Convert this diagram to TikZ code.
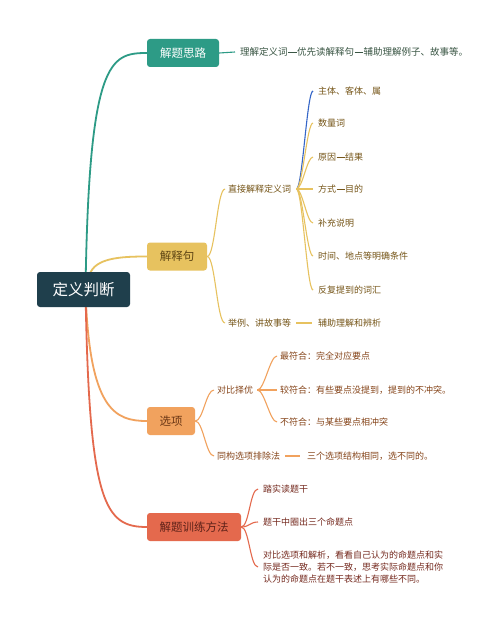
\documentclass[tikz,border=0pt]{standalone}
\usepackage{fontspec}
\setmainfont{Noto Sans CJK SC}
\usetikzlibrary{backgrounds}
\definecolor{rootc}{HTML}{1F3F4C}
\definecolor{tealc}{HTML}{2D9B86}
\definecolor{yelc}{HTML}{E7C25F}
\definecolor{orac}{HTML}{F1A25E}
\definecolor{redc}{HTML}{E4694D}
\definecolor{bluec}{HTML}{3566C8}
\definecolor{tealtext}{HTML}{3A5644}
\definecolor{yeltext}{HTML}{765619}
\definecolor{oratext}{HTML}{86451A}
\definecolor{redtext}{HTML}{752A1F}
\newcommand{\cjkdash}{\makebox[1em]{\rule[0.35em]{0.9em}{0.045em}}}
\begin{document}
\begin{tikzpicture}[x=1pt,y=-1pt,
  box/.style={rounded corners=3pt, inner sep=0pt, minimum height=28pt, font=\fontsize{11.5}{14}\selectfont},
  leaf/.style={anchor=west, inner sep=0pt, font=\fontsize{9}{12}\selectfont},
  mainline/.style={line width=1.8pt},
  subline/.style={line width=1.1pt}]
\useasboundingbox (0,0) rectangle (500,626);
% main boxes
\node[box, fill=rootc, text=white, minimum width=93pt, minimum height=35pt, font=\fontsize{15.5}{18}\selectfont] (root) at (83.5,289.5) {定义判断};
\node[box, fill=tealc, text=white, minimum width=72pt] (n1) at (183,53) {解题思路};
\node[box, fill=yelc, text=yeltext!80!black, minimum width=60pt] (n2) at (177,256.5) {解释句};
\node[box, fill=orac, text=oratext!80!black, minimum width=48pt] (n3) at (171,421) {选项};
\node[box, fill=redc, text=redtext!80!black, minimum width=94pt] (n4) at (194,527) {解题训练方法};
% branch 1
\node[leaf, text=tealtext, font=\fontsize{9.5}{12}\selectfont] (t1) at (240,52) {理解定义词\cjkdash 优先读解释句\cjkdash 辅助理解例子、故事等。};
% branch 2
\node[leaf, text=yeltext] (s1) at (228,189) {直接解释定义词};
\node[leaf, text=yeltext] (c1) at (318,91) {主体、客体、属};
\node[leaf, text=yeltext] (c2) at (318,123) {数量词};
\node[leaf, text=yeltext] (c3) at (318,157) {原因\cjkdash 结果};
\node[leaf, text=yeltext] (c4) at (318,189) {方式\cjkdash 目的};
\node[leaf, text=yeltext] (c5) at (318,223) {补充说明};
\node[leaf, text=yeltext] (c6) at (318,256) {时间、地点等明确条件};
\node[leaf, text=yeltext] (c7) at (318,290) {反复提到的词汇};
\node[leaf, text=yeltext] (s2) at (228,323) {举例、讲故事等};
\node[leaf, text=yeltext] (c8) at (318,323) {辅助理解和辨析};
% branch 3
\node[leaf, text=oratext] (s3) at (217,390) {对比择优};
\node[leaf, text=oratext] (d1) at (280,356) {最符合：完全对应要点};
\node[leaf, text=oratext] (d2) at (280,390) {较符合：有些要点没提到，提到的不冲突。};
\node[leaf, text=oratext] (d3) at (280,422) {不符合：与某些要点相冲突};
\node[leaf, text=oratext] (s4) at (217,456) {同构选项排除法};
\node[leaf, text=oratext] (d4) at (307,456) {三个选项结构相同，选不同的。};
% branch 4
\node[leaf, text=redtext] (e1) at (263,489) {踏实读题干};
\node[leaf, text=redtext] (e2) at (263,522) {题干中圈出三个命题点};
\node[leaf, text=redtext, align=left, font=\fontsize{9}{11.6}\selectfont] (e3) at (263,567) {对比选项和解析，看看自己认为的命题点和实\\际是否一致。若不一致，思考实际命题点和你\\认为的命题点在题干表述上有哪些不同。};
\begin{scope}[on background layer]
\fill[white] (0,0) rectangle (500,626);
% main connectors
\draw[mainline, tealc] ([xshift=2pt]root.center) .. controls (89,60) and (110,53) .. (n1.west);
\draw[mainline, yelc] ([xshift=6pt,yshift=-3pt]root.north) .. controls (95,258) and (120,256.5) .. (n2.west);
\draw[mainline, orac] ([xshift=2pt]root.center) .. controls (89,410) and (115,421) .. (n3.west);
\draw[mainline, redc] ([xshift=2pt]root.center) .. controls (89,505) and (105,527) .. (n4.west);
% branch 1
\draw[subline, tealc] (n1.east) -- ([xshift=-5pt]t1.west);
% branch 2
\draw[subline, yelc] (n2.east) .. controls +(8,0) and +(-8,0) .. ([xshift=-3pt]s1.west);
\draw[subline, yelc] (n2.east) .. controls +(8,0) and +(-8,0) .. ([xshift=-3pt]s2.west);
\draw[subline, bluec] ([xshift=5pt]s1.east) .. controls +(6,0) and +(-6,0) .. ([xshift=-5pt]c1.west);
\foreach \c in {c2,c3,c4,c5,c6,c7}
  \draw[subline, yelc] ([xshift=5pt]s1.east) .. controls +(6,0) and +(-6,0) .. ([xshift=-5pt]\c.west);
\draw[subline, yelc] ([xshift=5pt]s2.east) -- ([xshift=-6pt]c8.west);
% branch 3
\draw[subline, orac] (n3.east) .. controls +(8,0) and +(-8,0) .. ([xshift=-3pt]s3.west);
\draw[subline, orac] (n3.east) .. controls +(8,0) and +(-8,0) .. ([xshift=-3pt]s4.west);
\foreach \c in {d1,d2,d3}
  \draw[subline, orac] ([xshift=4pt]s3.east) .. controls +(7,0) and +(-7,0) .. ([xshift=-3pt]\c.west);
\draw[subline, orac] ([xshift=5pt]s4.east) -- ([xshift=-7pt]d4.west);
% branch 4
\foreach \c in {e1,e2,e3}
  \draw[subline, redc] (n4.east) .. controls +(8,0) and +(-8,0) .. ([xshift=-5pt]\c.west);
\end{scope}
\end{tikzpicture}
\end{document}
